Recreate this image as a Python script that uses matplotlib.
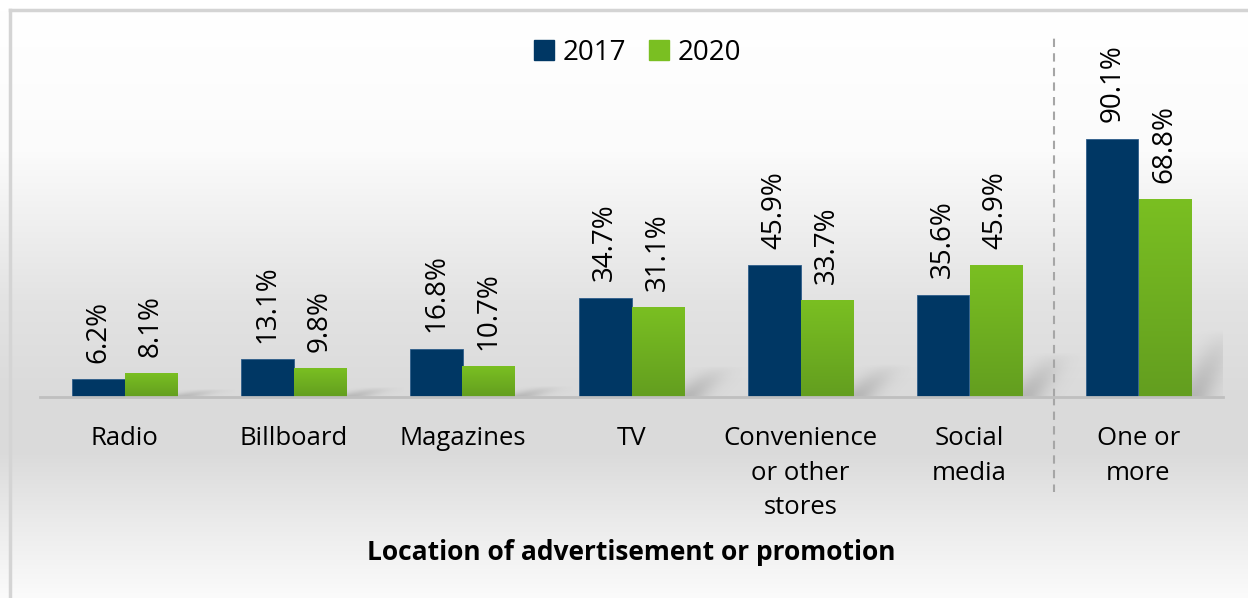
import numpy as np
import matplotlib
matplotlib.use("Agg")
import matplotlib.pyplot as plt
from matplotlib.patches import Patch

# Datos
categorias = ["Radio", "Billboard", "Magazines", "TV",
              "Convenience\nor other\nstores", "Social\nmedia", "One or\nmore"]
v2017 = [6.2, 13.1, 16.8, 34.7, 45.9, 35.6, 90.1]
v2020 = [8.1, 9.8, 10.7, 31.1, 33.7, 45.9, 68.8]
series = ["2017", "2020"]

azul = "#003764"
verde_top = np.array([0x7a, 0xbf, 0x22]) / 255
verde_bot = np.array([0x63, 0x9e, 0x1f]) / 255

plt.rcParams['font.family'] = ['Open Sans', 'DejaVu Sans']

W, H = 1248, 598
fig = plt.figure(figsize=(W / 100, H / 100), dpi=100)

# Fondo degradado
bg = fig.add_axes([0, 0, 1, 1], zorder=-2)
yy = np.arange(H)
gris = np.interp(yy, [0, 10, 150, 300, 400, 450, 520, 598],
                 [1.0, 1.0, 0.985, 0.89, 0.855, 0.855, 0.92, 0.985])
img = np.repeat(gris[:, None], 4, axis=1)
bg.imshow(np.dstack([img, img, img]), aspect='auto', extent=[0, W, H, 0])
bg.plot([10, 10], [10, H], color="#d4d4d4", lw=2.5)
bg.plot([10, W], [10, 10], color="#d4d4d4", lw=2.5)
bg.set_xlim(0, W)
bg.set_ylim(H, 0)
bg.axis('off')

ax = fig.add_axes([40 / W, 1 - 397 / H, 1183 / W, 364 / H])
ax.patch.set_alpha(0)
x = np.arange(len(categorias))
w = 0.31
ymax = 127

# Sombras suaves a la derecha de las barras verdes
gx = np.linspace(-1, 1, 80)
gy = np.linspace(0, 1, 50)
GX, GY = np.meshgrid(gx, gy)
for xi, v in zip(x, v2020):
    hs = v * 0.34
    # sombra inclinada: el centro se desplaza a la derecha con la altura
    a = np.exp(-((GX + 0.5 - GY * 0.9) ** 2) * 4) * np.clip(1 - GY, 0, 1) ** 0.8 * 0.4
    sh = np.zeros((50, 80, 4))
    sh[..., 0:3] = 0.5
    sh[..., 3] = a
    ax.imshow(sh, extent=[xi + w * 0.7, xi + w * 2.1, 0, hs],
              origin='lower', aspect='auto', zorder=1, interpolation='bilinear')

ax.bar(x - w / 2, v2017, w, color=azul, edgecolor="#2e5d8a", linewidth=0.6, zorder=2)
barras = ax.bar(x + w / 2, v2020, w, color="none", zorder=2)
grad = np.linspace(0, 1, 100)[:, None]
gimg = (verde_bot[None, None, :] * (1 - grad[..., None]) + verde_top[None, None, :] * grad[..., None])
gimg = np.repeat(gimg, 2, axis=1)
for b in barras:
    x0, y0 = b.get_x(), b.get_y()
    ax.imshow(gimg, extent=[x0, x0 + b.get_width(), y0, y0 + b.get_height()],
              origin='lower', aspect='auto', zorder=2)

ax.set_xlim(-0.5, len(categorias) - 0.5)
ax.set_ylim(0, ymax)

for xi, a, b in zip(x, v2017, v2020):
    ax.annotate(f"{a:.1f}%", (xi - w / 2, a), xytext=(0, 12), textcoords='offset points',
                rotation=90, ha='center', va='bottom', fontsize=20)
    ax.annotate(f"{b:.1f}%", (xi + w / 2, b), xytext=(0, 12), textcoords='offset points',
                rotation=90, ha='center', va='bottom', fontsize=20)

ax.axvline(5.5, ymin=0, ymax=1, color="#a6a6a6", lw=1.5, ls=(0, (4, 3)))
ax.plot([5.5, 5.5], [0, -33], color="#a6a6a6", lw=1.5, ls=(0, (4, 3)), clip_on=False)

ax.set_xticks(x)
ax.set_xticklabels(categorias, fontsize=18.5, linespacing=1.5)
ax.tick_params(axis='x', length=0, pad=21)
ax.set_yticks([])
for s in ['top', 'right', 'left']:
    ax.spines[s].set_visible(False)
ax.spines['bottom'].set_color("#bfbfbf")
ax.spines['bottom'].set_linewidth(2)

fig.text(631 / W, 1 - 553 / H, "Location of advertisement or promotion",
         ha='center', va='center', fontsize=19, fontweight='bold')

handles = [Patch(color=azul), Patch(color=verde_top)]
ax.legend(handles, series, loc='center', bbox_to_anchor=(0.505, 1 - 20 / 364),
          ncol=2, frameon=False, fontsize=20, handlelength=0.75, handleheight=0.75,
          handletextpad=0.3, columnspacing=0.8)

fig.savefig("out.png", dpi=100)
